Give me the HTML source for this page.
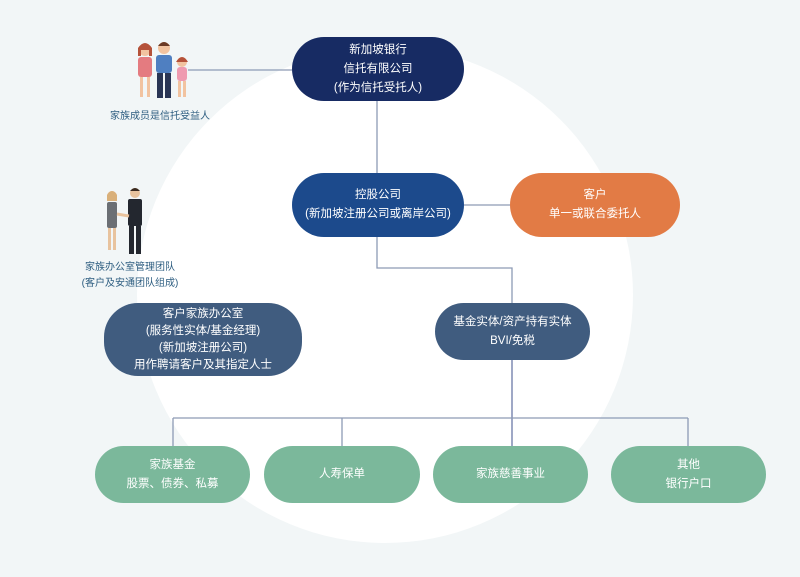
<!DOCTYPE html>
<html><head><meta charset="utf-8"><style>
html,body{margin:0;padding:0}
body{width:800px;height:577px;background:#f2f6f7;position:relative;overflow:hidden;font-family:"Liberation Sans","Noto Sans CJK SC",sans-serif}
.circle{position:absolute;left:137px;top:47px;width:496px;height:496px;border-radius:50%;background:#fff}
.n{position:absolute;display:flex;align-items:center;justify-content:center;text-align:center;color:#fff;font-size:11.5px;line-height:19px;border-radius:34px}
.lbl{position:absolute;color:#2d5d80;font-size:10px;text-align:center;line-height:16px}
</style></head><body>
<div class="circle"></div>
<svg width="800" height="577" style="position:absolute;left:0;top:0">
<g stroke="#8d9bb5" stroke-width="1.3" fill="none">
<line x1="188" y1="70" x2="292" y2="70"/>
<line x1="377" y1="101" x2="377" y2="173"/>
<line x1="464" y1="205" x2="510" y2="205"/>
<polyline points="377,237 377,268 512,268 512,303"/>
<line x1="512" y1="360" x2="512" y2="446" stroke="#6b78a8"/>
<line x1="173" y1="418" x2="688" y2="418"/>
<line x1="173" y1="418" x2="173" y2="446"/>
<line x1="342" y1="418" x2="342" y2="446"/>
<line x1="688" y1="418" x2="688" y2="446"/>
</g>
<!-- family -->
<g>
<circle cx="145" cy="50" r="6" fill="#f2c3a0"/><path d="M138 48 q7-10 14 0 v8 h-3 v-6 h-8 v6 h-3z" fill="#b5523a"/>
<rect x="138" y="57" width="14" height="20" rx="3" fill="#e47b80"/>
<rect x="140" y="77" width="3" height="20" fill="#f2c3a0"/><rect x="147" y="77" width="3" height="20" fill="#f2c3a0"/>
<circle cx="164" cy="48" r="6" fill="#f2c3a0"/><path d="M158 46 q6-8 12 0z" fill="#6b3a25"/>
<rect x="156" y="55" width="16" height="18" rx="3" fill="#4f7fc1"/>
<rect x="157" y="73" width="6" height="25" fill="#2a3555"/><rect x="165" y="73" width="6" height="25" fill="#2a3555"/>
<circle cx="182" cy="62" r="5" fill="#f2c3a0"/><path d="M176 62 q6-10 12 0z" fill="#b5523a"/>
<rect x="177" y="67" width="10" height="14" rx="3" fill="#ef9ab0"/>
<rect x="178" y="81" width="3" height="16" fill="#f2c3a0"/><rect x="183" y="81" width="3" height="16" fill="#f2c3a0"/>
</g>
<!-- handshake -->
<g>
<circle cx="112" cy="196" r="5" fill="#e8c39e"/><path d="M107 195 q5-8 10 0 v6 h-10z" fill="#d9b07a"/>
<rect x="107" y="202" width="10" height="26" rx="2" fill="#6b6f74"/>
<rect x="108" y="228" width="3" height="22" fill="#e8c39e"/><rect x="113" y="228" width="3" height="22" fill="#e8c39e"/>
<circle cx="135" cy="193" r="5" fill="#e8c39e"/><path d="M130 191 q5-6 10 0z" fill="#3a2a20"/>
<rect x="128" y="199" width="14" height="27" rx="2" fill="#23272f"/>
<rect x="129" y="226" width="5" height="28" fill="#23272f"/><rect x="136" y="226" width="5" height="28" fill="#23272f"/>
<line x1="117" y1="214" x2="129" y2="216" stroke="#e8c39e" stroke-width="3"/>
</g>
</svg>
<div class="lbl" style="left:100px;top:109px;width:120px">家族成员是信托受益人</div>
<div class="lbl" style="left:60px;top:260px;width:140px">家族办公室管理团队<br>(客户及安通团队组成)</div>
<div class="n" style="left:292px;top:37px;width:172px;height:64px;background:#172b63">新加坡银行<br>信托有限公司<br>(作为信托受托人)</div>
<div class="n" style="left:292px;top:173px;width:172px;height:64px;background:#1c4a8c">控股公司<br>(新加坡注册公司或离岸公司)</div>
<div class="n" style="left:510px;top:173px;width:170px;height:64px;background:#e27b45">客户<br>单一或联合委托人</div>
<div class="n" style="left:104px;top:303px;width:198px;height:73px;background:#405c7f;line-height:17px">客户家族办公室<br>(服务性实体/基金经理)<br>(新加坡注册公司)<br>用作聘请客户及其指定人士</div>
<div class="n" style="left:435px;top:303px;width:155px;height:57px;background:#405c7f">基金实体/资产持有实体<br>BVI/免税</div>
<div class="n" style="left:95px;top:446px;width:155px;height:57px;background:#7bb89b">家族基金<br>股票、债券、私募</div>
<div class="n" style="left:264px;top:446px;width:156px;height:57px;background:#7bb89b">人寿保单</div>
<div class="n" style="left:433px;top:446px;width:155px;height:57px;background:#7bb89b">家族慈善事业</div>
<div class="n" style="left:611px;top:446px;width:155px;height:57px;background:#7bb89b">其他<br>银行户口</div>
</body></html>
